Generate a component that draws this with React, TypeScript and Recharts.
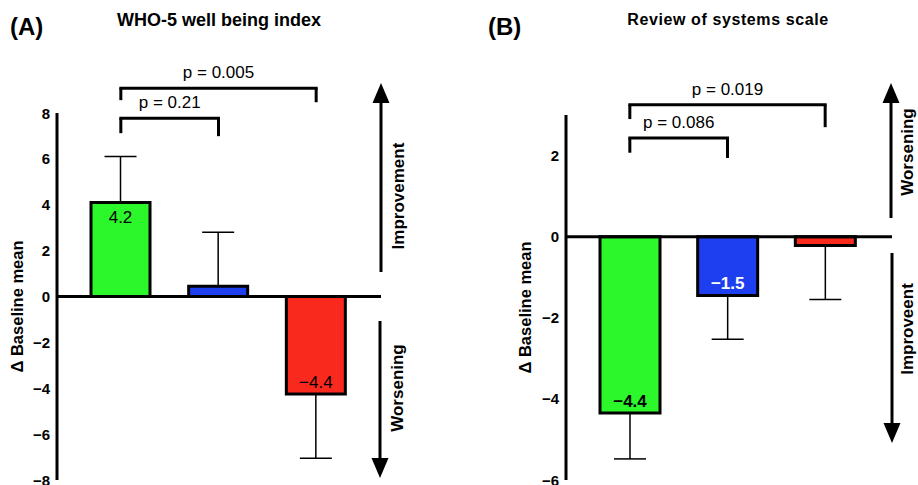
import { BarChart, Bar, XAxis, YAxis, ReferenceLine, ErrorBar, LabelList, Cell } from 'recharts';

const FONT = 'Arial, "Liberation Sans", Helvetica, sans-serif';

// ─── Shared ───
const groups = ['Group 1', 'Group 2', 'Group 3'];
const barColors = ['#2BF72B', '#1D3FF0', '#F9291E'];

// ─── (A) WHO-5 well being index ───
const whoMeans = [4.1, 0.45, -4.25];
const whoErrors = [[0, 2.0], [0, 2.35], [2.8, 0]];
const whoLabels = ['4.2', '', '−4.4'];
const whoTicks = [-8, -6, -4, -2, 0, 2, 4, 6, 8];
const whoBrackets = [
  { from: 0, to: 2, top: 9.08, footL: 8.56, footR: 8.47, text: 'p = 0.005' },
  { from: 0, to: 1, top: 7.77, footL: 7.12, footR: 6.99, text: 'p = 0.21' },
];

// ─── (B) Review of systems scale ───
const rosMeans = [-4.35, -1.45, -0.22];
const rosErrors = [[1.13, 0], [1.08, 0], [1.33, 0]];
const rosLabels = ['−4.4', '−1.5', ''];
const rosTicks = [-6, -4, -2, 0, 2];
const rosBrackets = [
  { from: 0, to: 2, top: 3.25, footL: 2.9, footR: 2.7, text: 'p = 0.019' },
  { from: 0, to: 1, top: 2.43, footL: 2.07, footR: 1.94, text: 'p = 0.086' },
];

const fmtTick = (v: number) => (v < 0 ? `−${Math.abs(v)}` : `${v}`);

type Bracket = { from: number; to: number; top: number; footL: number; footR: number; text: string };

type PanelProps = {
  means: number[];
  errors: number[][];
  labels: string[];
  labelFills: string[];
  labelBold: boolean;
  domain: [number, number];
  ticks: number[];
  brackets: Bracket[];
  margin: { top: number; right: number; bottom: number; left: number };
  yWidth: number;
  padding: { left: number; right: number };
  barSize: number;
  yLabelX: number;
};

// bold tick labels, right aligned next to the axis
const YTick = (props: any) => {
  const { x, y, payload } = props;
  return (
    <text x={x} y={y} textAnchor="end" dominantBaseline="central" fontSize={15} fontWeight={700} fontFamily={FONT} fill="#000">
      {fmtTick(payload.value)}
    </text>
  );
};

const Panel = (p: PanelProps) => {
  const data = groups.map((g, i) => ({ group: g, mean: p.means[i], err: p.errors[i], label: p.labels[i] }));

  const renderLabel = (props: any) => {
    const { x, y, width, height, index } = props;
    const text = p.labels[index];
    if (!text) return null;
    const y0 = Number(y), h = Number(height);
    const top = Math.min(y0, y0 + h);
    const bottom = Math.max(y0, y0 + h);
    const cy = p.means[index] >= 0 ? top + 15 : bottom - 11.5;
    return (
      <text x={Number(x) + Number(width) / 2} y={cy} textAnchor="middle" dominantBaseline="central"
        fontSize={17} fontFamily={FONT} fontWeight={p.labelBold ? 700 : 400} fill={p.labelFills[index]}>
        {text}
      </text>
    );
  };

  const renderYLabel = (props: any) => {
    const vb = props.viewBox || {};
    const cx = p.yLabelX;
    const cy = vb.y + vb.height / 2 + 10;
    return (
      <text x={cx} y={cy} transform={`rotate(-90, ${cx}, ${cy})`} textAnchor="middle" dominantBaseline="central"
        fontSize={16.5} fontWeight={700} fontFamily={FONT} fill="#000">
        Δ Baseline mean
      </text>
    );
  };

  const bracketLines = p.brackets.flatMap((b, i) => {
    const gl = groups[b.from], gr = groups[b.to];
    const common = { stroke: '#000', strokeWidth: 3, ifOverflow: 'visible' as const };
    return [
      <ReferenceLine key={`t${i}`} {...common} strokeLinecap="square"
        segment={[{ x: gl, y: b.top }, { x: gr, y: b.top }]}
        label={{ value: b.text, position: 'top', offset: 10, fill: '#000', fontSize: 17, fontFamily: FONT }} />,
      <ReferenceLine key={`l${i}`} {...common} segment={[{ x: gl, y: b.top }, { x: gl, y: b.footL }]} />,
      <ReferenceLine key={`r${i}`} {...common} segment={[{ x: gr, y: b.top }, { x: gr, y: b.footR }]} />,
    ];
  });

  return (
    <BarChart width={459} height={485} data={data} margin={p.margin}>
      <XAxis dataKey="group" hide padding={p.padding} />
      <YAxis domain={p.domain} ticks={p.ticks} interval={0} width={p.yWidth}
        axisLine={{ stroke: '#000', strokeWidth: 3 }} tickLine={false} tickSize={5} tickMargin={2}
        tick={<YTick />}
        label={{ content: renderYLabel }} />
      <Bar dataKey="mean" barSize={p.barSize} stroke="#000" strokeWidth={3} isAnimationActive={false}>
        {data.map((d, i) => (
          <Cell key={d.group} fill={barColors[i]} />
        ))}
        <ErrorBar dataKey="err" direction="y" width={16} stroke="#000" strokeWidth={1.5} isAnimationActive={false} />
        <LabelList dataKey="mean" content={renderLabel} />
      </Bar>
      <ReferenceLine y={0} stroke="#000" strokeWidth={3} />
      {bracketLines}
    </BarChart>
  );
};

const Arrow = ({ x, y1, y2, up }: { x: number; y1: number; y2: number; up: boolean }) => {
  // y1 = tail end, y2 = tip
  const head = 20;
  const base = up ? y2 + head : y2 - head;
  return (
    <g>
      <line x1={x} y1={y1} x2={x} y2={base} stroke="#000" strokeWidth={3} />
      <polygon points={`${x},${y2} ${x - 8.5},${base} ${x + 8.5},${base}`} fill="#000" />
    </g>
  );
};

const VText = ({ x, y, children }: { x: number; y: number; children: string }) => (
  <text x={x} y={y} transform={`rotate(-90, ${x}, ${y})`} textAnchor="middle" dominantBaseline="central"
    fontSize={17} fontWeight={700} fontFamily={FONT} fill="#000">
    {children}
  </text>
);

export default function App() {
  return (
    <div style={{ position: 'absolute', left: 0, top: 0, width: 918, height: 485, background: '#fff', fontFamily: FONT }}>
      <div style={{ position: 'absolute', left: 0, top: 0 }}>
        <Panel means={whoMeans} errors={whoErrors} labels={whoLabels} labelFills={['#000', '#000', '#000']} labelBold={false}
          domain={[-8, 8]} ticks={whoTicks} brackets={whoBrackets}
          margin={{ top: 113, right: 78, bottom: 5, left: 0 }} yWidth={57}
          padding={{ left: 15, right: 16 }} barSize={59} yLabelX={17} />
      </div>
      <div style={{ position: 'absolute', left: 459, top: 0 }}>
        <Panel means={rosMeans} errors={rosErrors} labels={rosLabels} labelFills={['#000', '#fff', '#000']} labelBold
          domain={[-6, 3]} ticks={rosTicks} brackets={rosBrackets}
          margin={{ top: 115, right: 26, bottom: 5, left: 0 }} yWidth={107}
          padding={{ left: 15, right: 18 }} barSize={60} yLabelX={66} />
      </div>
      <svg width={918} height={485} style={{ position: 'absolute', left: 0, top: 0, pointerEvents: 'none' }}>
        <text x={10} y={35} fontSize={24} fontWeight={700} fontFamily={FONT}>(A)</text>
        <text x={219} y={26} textAnchor="middle" fontSize={18} fontWeight={700} fontFamily={FONT}>WHO-5 well being index</text>
        <text x={488} y={35} fontSize={24} fontWeight={700} fontFamily={FONT}>(B)</text>
        <text x={728} y={25} textAnchor="middle" fontSize={16} fontWeight={700} fontFamily={FONT} letterSpacing={0.6}>Review of systems scale</text>

        <Arrow x={381} y1={272} y2={83} up />
        <VText x={398} y={196}>Improvement</VText>
        <Arrow x={380} y1={321} y2={478} up={false} />
        <VText x={397} y={388}>Worsening</VText>

        <Arrow x={891} y1={218} y2={83} up />
        <VText x={907} y={152}>Worsening</VText>
        <Arrow x={892} y1={253} y2={443} up={false} />
        <VText x={907} y={329}>Improveent</VText>
      </svg>
    </div>
  );
}
